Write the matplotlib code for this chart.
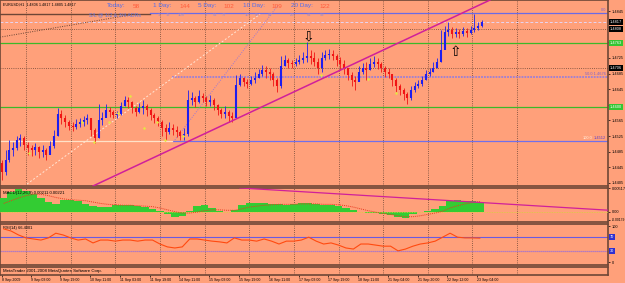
import matplotlib
matplotlib.use('Agg')
import matplotlib.pyplot as plt

# EURUSD H1, 8-23 Sep 2009, one entry = 2 hourly bars
close = [1.4433, 1.4464, 1.4489, 1.4494, 1.4515, 1.4520, 1.4502, 1.4494, 1.4489, 1.4497,
         1.4484, 1.4489, 1.4476, 1.4500, 1.4525, 1.4581, 1.4571, 1.4561, 1.4551, 1.4548,
         1.4556, 1.4561, 1.4566, 1.4571, 1.4540, 1.4520, 1.4566, 1.4571, 1.4592, 1.4587,
         1.4579, 1.4581, 1.4602, 1.4617, 1.4612, 1.4597, 1.4587, 1.4597, 1.4602, 1.4592,
         1.4579, 1.4571, 1.4561, 1.4546, 1.4535, 1.4546, 1.4540, 1.4535, 1.4525, 1.4530,
         1.4617, 1.4622, 1.4612, 1.4627, 1.4622, 1.4612, 1.4617, 1.4604, 1.4592, 1.4581,
         1.4587, 1.4576, 1.4571, 1.4656, 1.4673, 1.4663, 1.4658, 1.4668, 1.4673, 1.4684,
         1.4694, 1.4689, 1.4684, 1.4668, 1.4653, 1.4704, 1.4720, 1.4712, 1.4709, 1.4714,
         1.4720, 1.4725, 1.4730, 1.4725, 1.4714, 1.4699, 1.4725, 1.4732, 1.4735, 1.4730,
         1.4720, 1.4709, 1.4699, 1.4681, 1.4668, 1.4663, 1.4689, 1.4699, 1.4694, 1.4709,
         1.4714, 1.4709, 1.4699, 1.4689, 1.4684, 1.4668, 1.4653, 1.4643, 1.4632, 1.4622,
         1.4643, 1.4653, 1.4658, 1.4668, 1.4684, 1.4689, 1.4699, 1.4714, 1.4745, 1.4791,
         1.4796, 1.4786, 1.4791, 1.4786, 1.4794, 1.4789, 1.4796, 1.4802, 1.4807, 1.4817]
high = [1.4464, 1.4489, 1.4515, 1.4510, 1.4525, 1.4530, 1.4525, 1.4510, 1.4502, 1.4507,
        1.4500, 1.4502, 1.4494, 1.4512, 1.4540, 1.4597, 1.4592, 1.4579, 1.4566, 1.4561,
        1.4569, 1.4571, 1.4576, 1.4581, 1.4571, 1.4546, 1.4607, 1.4587, 1.4607, 1.4599,
        1.4592, 1.4589, 1.4612, 1.4627, 1.4625, 1.4615, 1.4602, 1.4610, 1.4617, 1.4607,
        1.4597, 1.4584, 1.4576, 1.4566, 1.4556, 1.4561, 1.4556, 1.4551, 1.4540, 1.4546,
        1.4643, 1.4638, 1.4627, 1.4643, 1.4635, 1.4627, 1.4630, 1.4622, 1.4607, 1.4597,
        1.4602, 1.4592, 1.4587, 1.4681, 1.4684, 1.4676, 1.4671, 1.4679, 1.4689, 1.4697,
        1.4707, 1.4704, 1.4699, 1.4689, 1.4673, 1.4730, 1.4732, 1.4725, 1.4720, 1.4725,
        1.4732, 1.4740, 1.4766, 1.4745, 1.4740, 1.4725, 1.4740, 1.4745, 1.4748, 1.4745,
        1.4735, 1.4727, 1.4720, 1.4699, 1.4689, 1.4679, 1.4704, 1.4712, 1.4714, 1.4725,
        1.4730, 1.4725, 1.4714, 1.4704, 1.4699, 1.4684, 1.4673, 1.4658, 1.4648, 1.4638,
        1.4653, 1.4663, 1.4668, 1.4679, 1.4694, 1.4699, 1.4714, 1.4725, 1.4796, 1.4807,
        1.4817, 1.4804, 1.4802, 1.4799, 1.4804, 1.4802, 1.4807, 1.4837, 1.4817, 1.4822]
low = [1.4412, 1.4425, 1.4459, 1.4474, 1.4489, 1.4500, 1.4489, 1.4476, 1.4474, 1.4476,
       1.4469, 1.4471, 1.4464, 1.4484, 1.4494, 1.4525, 1.4556, 1.4548, 1.4540, 1.4538,
       1.4543, 1.4548, 1.4551, 1.4556, 1.4525, 1.4507, 1.4520, 1.4553, 1.4576, 1.4574,
       1.4571, 1.4571, 1.4579, 1.4602, 1.4597, 1.4584, 1.4576, 1.4584, 1.4581, 1.4576,
       1.4566, 1.4558, 1.4551, 1.4525, 1.4515, 1.4530, 1.4528, 1.4522, 1.4515, 1.4515,
       1.4525, 1.4604, 1.4599, 1.4610, 1.4612, 1.4602, 1.4602, 1.4592, 1.4579, 1.4571,
       1.4571, 1.4561, 1.4561, 1.4571, 1.4653, 1.4653, 1.4648, 1.4656, 1.4661, 1.4673,
       1.4679, 1.4673, 1.4668, 1.4653, 1.4638, 1.4648, 1.4704, 1.4699, 1.4699, 1.4704,
       1.4709, 1.4712, 1.4714, 1.4709, 1.4704, 1.4684, 1.4689, 1.4720, 1.4722, 1.4720,
       1.4704, 1.4694, 1.4684, 1.4668, 1.4653, 1.4643, 1.4668, 1.4684, 1.4668, 1.4694,
       1.4702, 1.4697, 1.4689, 1.4676, 1.4673, 1.4653, 1.4638, 1.4630, 1.4617, 1.4607,
       1.4617, 1.4638, 1.4648, 1.4653, 1.4668, 1.4679, 1.4689, 1.4699, 1.4714, 1.4758,
       1.4781, 1.4776, 1.4778, 1.4776, 1.4781, 1.4778, 1.4786, 1.4791, 1.4796, 1.4804]
first_open = 1.4455

# indicators, one entry = 4 hourly bars
macd_hist = [0.00290, 0.00419, 0.00505, 0.00462, 0.00376, 0.00290, 0.00204, 0.00161, 0.00247, 0.00247,
             0.00226, 0.00161, 0.00118, 0.00097, 0.00097, 0.00140, 0.00140, 0.00140, 0.00118, 0.00097,
             0.00054, 0.00011, -0.00054, -0.00118, -0.00097, 0.00011, 0.00118, 0.00140, 0.00075, 0.00011,
             -0.00011, 0.00032, 0.00140, 0.00183, 0.00183, 0.00183, 0.00161, 0.00161, 0.00140, 0.00161,
             0.00183, 0.00183, 0.00161, 0.00140, 0.00140, 0.00118, 0.00075, 0.00032, -0.00011, -0.00032,
             -0.00032, -0.00054, -0.00075, -0.00118, -0.00140, -0.00054, -0.00011, 0.00011, 0.00054, 0.00118,
             0.00226, 0.00247, 0.00240, 0.00225, 0.00211]
macd_signal = [0.0018, 0.0024, 0.0030, 0.0035, 0.0038, 0.0038, 0.0035, 0.0031, 0.0028, 0.0026,
               0.0025, 0.0024, 0.0021, 0.0018, 0.0016, 0.0015, 0.0014, 0.0014, 0.0013, 0.0012,
               0.0011, 0.0008, 0.0004, 0.0000, -0.0003, -0.0003, -0.0001, 0.0002, 0.0004, 0.0004,
               0.0003, 0.0003, 0.0006, 0.0010, 0.0012, 0.0014, 0.0015, 0.0016, 0.0016, 0.0016,
               0.0017, 0.0017, 0.0017, 0.0016, 0.0016, 0.0015, 0.0013, 0.0010, 0.0006, 0.0002,
               -0.0001, -0.0004, -0.0006, -0.0009, -0.0011, -0.0011, -0.0009, -0.0006, -0.0003, 0.0001,
               0.0008, 0.0013, 0.0017, 0.0020, 0.0022]
rsi = [92, 86, 75, 67, 64, 61, 67, 80, 75, 67,
       61, 64, 53, 61, 61, 58, 61, 61, 58, 61,
       61, 50, 42, 39, 42, 64, 64, 61, 58, 56,
       53, 67, 61, 61, 58, 64, 58, 50, 58, 58,
       61, 69, 58, 50, 53, 47, 39, 36, 50, 50,
       47, 44, 44, 31, 36, 44, 50, 53, 58, 69,
       80, 69, 67, 67, 66.4]

time_labels = ['8 Sep 2009', '9 Sep 03:00', '9 Sep 19:00', '10 Sep 11:00', '11 Sep 03:00',
               '11 Sep 19:00', '14 Sep 11:00', '15 Sep 03:00', '15 Sep 19:00', '16 Sep 11:00',
               '17 Sep 03:00', '17 Sep 19:00', '18 Sep 11:00', '21 Sep 04:00', '21 Sep 20:00',
               '22 Sep 12:00', '23 Sep 04:00']
time_label_bars = [1, 16.5, 32.5, 48.5, 64.5, 80.5, 96.5, 112.5, 128.5, 144.5,
                   160.5, 176.5, 192.5, 208.5, 224.5, 240.5, 256.5]
day_grid_bars = [14, 38, 62, 86, 110, 134, 158, 182, 206, 230, 254, 278]
# 1.4805, 1.4765 and 1.4605 sit under the line boxes, so no text for them
price_ticks = [1.4845, 1.4805, 1.4765, 1.4725, 1.4685, 1.4645, 1.4605, 1.4565,
               1.4525, 1.4485, 1.4445, 1.4405]
price_tick_labels = ['1.4845', '', '', '1.4725', '1.4685', '1.4645', '', '1.4565',
                     '1.4525', '1.4485', '1.4445', '1.4405']

# chart objects
fibo_levels = [1.4840, 1.4676, 1.4512]
bid = 1.4817
round_levels = [1.4800, 1.4700]
green_levels = [1.4763, 1.4600]
trend_main = ([50, 263.4], [1.4397, 1.4873])
trend_upper = ([0, 72.6], [1.4778, 1.4837])
trend_white = ([14.5, 139.8], [1.4402, 1.4837])
trend_purple = ([94, 149.5], [1.4515, 1.4860])
trend_macd = ([129, 327], [0.00518, 0.00032])
fractal_x = [15.6, 44, 50.5, 58.6, 63.4, 69.9, 77.4, 84.4, 88.7, 98.4, 172.6, 197.8, 212.9]
fractal_y = [1.4482, 1.4561, 1.4510, 1.4561, 1.4584, 1.4627, 1.4546, 1.4561, 1.4515,
             1.4525, 1.4681, 1.4671, 1.4635]

bg = '#FFA07A'
edge = '#6E4636'
grid_c = '#6A4535'
W, H = 625, 283
FONT = 'Liberation Sans'
plt.rcParams['font.family'] = [FONT, 'DejaVu Sans']

fig = plt.figure(figsize=(W / 100, H / 100), dpi=100, facecolor=bg)


def panel(top, bottom):
    ax = fig.add_axes([0, 1 - bottom / H, 608 / W, (bottom - top) / H], facecolor=bg)
    for s in ax.spines.values():
        s.set_color(edge)
        s.set_linewidth(1.2)
    ax.yaxis.tick_right()
    ax.tick_params(axis='y', labelsize=2.8, length=1.5, width=0.5, pad=1, colors='black')
    ax.tick_params(axis='x', bottom=False, labelbottom=False)
    ax.set_xlim(0, 326.9)
    for gx in day_grid_bars:
        ax.axvline(gx, color=grid_c, lw=0.6, ls=(0, (1, 1.6)), zorder=1)
    return ax


ax = panel(0, 186)
ax_macd = panel(188, 222)
ax_rsi = panel(224, 265)
ax_bot = panel(267, 275)

# ---- main price panel ----
ax.set_ylim(1.4397, 1.48732)
ax.set_yticks(price_ticks)
ax.set_yticklabels(price_tick_labels)

ax.axhline(1.4837, xmax=150 / 608, color=edge, lw=1.0, zorder=2)
ax.axhline(fibo_levels[0], xmin=150 / 608, color='#6A6AE6', lw=0.9, zorder=2)
ax.axhline(fibo_levels[1], xmin=172 / 608, color='#9C7FD6', lw=1.3, ls=(0, (1, 0.6)), zorder=2)
ax.axhline(fibo_levels[2], xmin=172 / 608, color='#7070EA', lw=0.9, zorder=2)
ax.axhline(fibo_levels[2], xmax=172 / 608, color='#FFE2C8', lw=0.9, zorder=2)
ax.axhline(bid, color='#E6D4F2', lw=0.7, ls=(0, (3, 2)), zorder=2)
for lv in round_levels:
    ax.axhline(lv, color=grid_c, lw=0.6, ls=(0, (1, 1.6)), zorder=2)
for lv in green_levels:
    ax.axhline(lv, color='#3CB82A', lw=0.9, zorder=2)

ax.plot(*trend_upper, color=grid_c, lw=0.7, ls=(0, (1, 1.4)), zorder=2)
ax.plot(*trend_white, color='#FFE6D6', lw=0.7, ls=(0, (2, 2)), zorder=2)
ax.plot(*trend_purple, color='#A078D0', lw=0.7, ls=(0, (1, 1.4)), zorder=2)

xs = [2 * i + 1 for i in range(len(close))]
opens = [first_open] + close[:-1]
cols = ['#1E1EEE' if c >= o else '#F01414' for o, c in zip(opens, close)]
ax.vlines(xs, low, high, colors=cols, lw=0.6, zorder=3)
ax.vlines(xs, opens, close, colors=cols, lw=1.5, zorder=3)

ax.plot(*trend_main, color='#D0209A', lw=1.1, zorder=4)
ax.scatter(fractal_x, fractal_y, s=3, marker='D', color='#E8E048', lw=0, zorder=5)

ax.text(165.6, 1.4781, '\u21e9', ha='center', va='center', fontsize=10,
        family='DejaVu Sans', color='black', zorder=6)
ax.text(245, 1.4739, '\u21e7', ha='center', va='center', fontsize=10,
        family='DejaVu Sans', color='black', zorder=6)

yt = ax.get_yaxis_transform()
ax.text(0.997, fibo_levels[0] + 0.0003, '0.0', transform=yt, ha='right', va='bottom',
        fontsize=2.8, color='#7A60D0')
ax.text(0.997, fibo_levels[1] + 0.0002, '50.0 1.4676', transform=yt, ha='right', va='bottom',
        fontsize=2.8, color='#7A60D0')
ax.text(0.975, fibo_levels[2] + 0.0002, '100.0', transform=yt, ha='right', va='bottom',
        fontsize=2.8, color='#FFF0E0')
ax.text(0.997, fibo_levels[2] + 0.0002, '1.4512', transform=yt, ha='right', va='bottom',
        fontsize=2.8, color='#5A40D0')


def axis_box(a, y, label, fc, tc='white'):
    a.text(1.003, y, label, transform=a.get_yaxis_transform(), ha='left', va='center',
           fontsize=2.8, color=tc, zorder=10, clip_on=False,
           bbox=dict(boxstyle='square,pad=0.25', fc=fc, ec='none'))


axis_box(ax, bid, '%.4f' % bid, 'black')
axis_box(ax, round_levels[0], '1.4808', 'black')
axis_box(ax, round_levels[1], '1.4706', 'black')
for lv in green_levels:
    axis_box(ax, lv, '%.4f' % lv, '#33C633')

# ---- MACD ----
x4 = [4 * j + 2 for j in range(len(macd_hist))]
ax_macd.set_ylim(-0.00226, 0.00505)
ax_macd.bar(x4, macd_hist, width=4, color='#33CC33', lw=0, zorder=3)
ax_macd.axhline(0, color='#D8D040', lw=0.6, ls=(0, (1, 1)), zorder=4)
ax_macd.plot(x4, macd_signal, color='#E83A20', lw=0.7, ls=(0, (1, 1)), zorder=4)
ax_macd.plot(*trend_macd, color='#D0209A', lw=0.9, zorder=5)
ax_macd.set_yticks([0.00517, 0.0, -0.00179])
ax_macd.set_yticklabels(['0.00517', '0.00', '-0.00179'])
ax_macd.get_yticklabels()[2].set_fontsize(2.4)
ax_macd.text(0.005, 0.86, 'MACD(12,26,9) 0.00211 0.00221', transform=ax_macd.transAxes,
             fontsize=3.1, color='black', va='center')

# ---- RSI ----
ax_rsi.set_ylim(-8.3, 105.6)
ax_rsi.axhline(70, color='#6A5AE0', lw=0.8, zorder=2)
ax_rsi.axhline(30, color='#9A70D8', lw=0.9, ls=(0, (1, 0.6)), zorder=2)
ax_rsi.plot(x4, rsi, color='#FF4A10', lw=0.8, zorder=4)
ax_rsi.set_yticks([100, 0])
ax_rsi.set_yticklabels(['100', '0'])
axis_box(ax_rsi, 70, '70', '#3030D0')
axis_box(ax_rsi, 30, '30', '#3030D0')
ax_rsi.text(0.005, 0.9, 'RSI(14) 66.4001', transform=ax_rsi.transAxes,
            fontsize=2.9, color='black', va='center')

# ---- bottom strip + time axis ----
ax_bot.set_yticks([])
ax_bot.text(0.005, 0.45, 'MetaTrader 2001-2008 MetaQuotes Software Corp.',
            transform=ax_bot.transAxes, fontsize=3.2, color='black', va='center')
ax_bot.tick_params(axis='x', bottom=True, labelbottom=True, labelsize=2.6,
                   length=1.5, width=0.5, pad=0.8, colors='black')
ax_bot.set_xticks(time_label_bars)
ax_bot.set_xticklabels(time_labels, ha='left')

# ---- header texts ----
fig.text(3 / W, 1 - 5 / H, 'EURUSD,H1  1.4806 1.4817 1.4805 1.4817', fontsize=2.7,
         color='black', va='center')
blue_t = '#4E6CF0'
red_t = '#FF5A3A'
for x, s, c in [(107, 'Today:', blue_t), (133, '58', red_t), (153, '1 Day:', blue_t),
                (179, '144', red_t), (198, '5 Day:', blue_t), (223, '102', red_t),
                (243, '10 Day:', blue_t), (271, '109', red_t), (291, '20 Day:', blue_t),
                (319, '122', red_t)]:
    fig.text(x / W, 1 - 6 / H, s, fontsize=4.6, color=c, va='center')
fig.text(89 / W, 1 - 15 / H, 'S/L @ 1/2 & 3/4 ADRs', fontsize=3.8, color='#6677E0',
         va='center')
for x, s in [(158, '1'), (166, '72'), (178, '108'), (205, '5'), (213, '51'), (222, '77'),
             (245, '10'), (255, '55'), (268, '82'), (290, '20'), (307, '61'), (320, '92')]:
    fig.text(x / W, 1 - 15 / H, s, fontsize=3.0, color='#9A86C8', va='center')

fig.savefig('out.png', dpi=100, facecolor=bg)
